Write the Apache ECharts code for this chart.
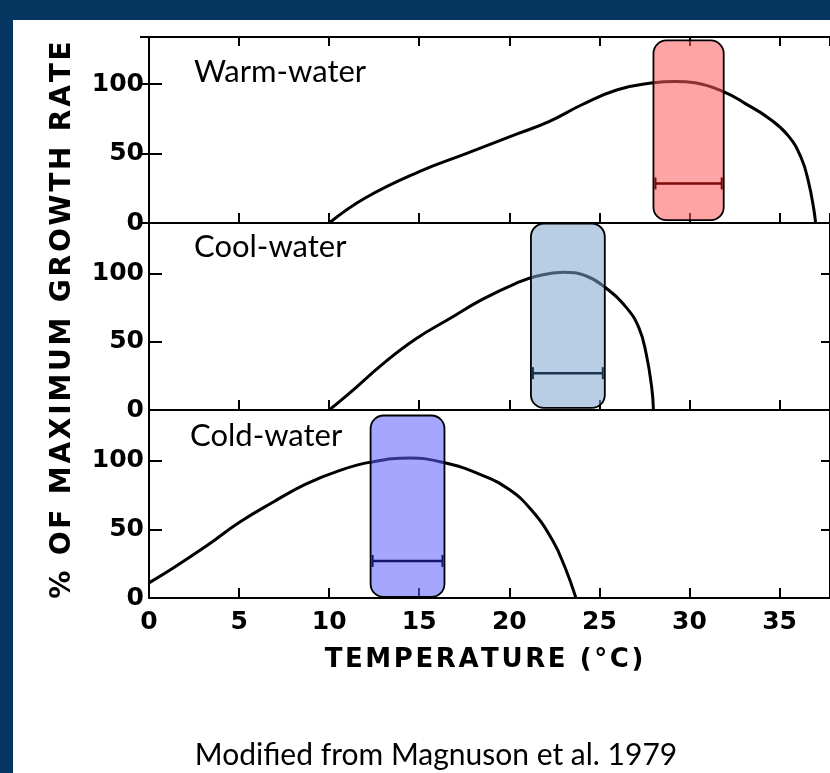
<!DOCTYPE html>
<html><head><meta charset="utf-8">
<script src="https://cdn.jsdelivr.net/npm/echarts@6/dist/echarts.min.js"></script>
<style>html,body{margin:0;padding:0;background:#fff}#c{width:830px;height:773px}</style>
</head><body><div id="c"></div>
<script>
// ---- data ----
const panelNames = ['Warm-water', 'Cool-water', 'Cold-water'];
const warmCurve = [[10,0],[12,18],[15,37],[17.6,50],[20.4,64],[22.2,73],[24,85],[26,96],[28,101],[29.2,102],[30.3,101],[32,94],[33.1,86],[34.4,75.5],[35.5,62.6],[36.2,47],[36.6,30],[36.9,10],[37,0]];
const coolCurve = [[10,0],[11.1,12],[13,34],[14.8,52],[16.7,67],[18.5,81],[20.4,93],[21.5,98],[23,101],[24.3,98],[25.3,90],[26.5,75],[27.2,60],[27.6,41],[27.9,17],[28,0]];
const coldCurve = [[0,11],[1.3,21.5],[3.2,38],[5,55],[6.9,70],[8.7,83],[10.6,93],[12.3,99],[14.5,102],[16.4,98.5],[18.3,90.5],[20,79],[21.3,63],[22.4,42],[23.1,22],[23.7,0]];
// preferred ranges: [tMin, tMax, bottom %, top %, bar level %]
const warmBox = [28, 31.9, 2, 131.5, 28.5];
const coolBox = [21.2, 25.3, 1.5, 136.5, 27];
const coldBox = [12.3, 16.4, 0.8, 133, 27];
const yTickLabels = ['0', '50', '100'];
const yStep = 50;
const xStep = 5;
const xMax = 37.8;
const yMax = [134, 137, 137];
const yTitle = '% OF MAXIMUM GROWTH RATE';
const xTitle = 'TEMPERATURE (°C)';
const caption = 'Modified from Magnuson et al. 1979';

// ---- chart ----
const chart = echarts.init(document.getElementById('c'), null, {renderer: 'canvas'});
const NUM_FONT = 'DejaVu Sans';
const gridTops = [37, 223, 410];
const gridHeights = [186, 187, 188];
const grids = gridTops.map((t, i) => ({left: 149, top: t, width: 682.6, height: gridHeights[i], containLabel: false}));

function spaced(s, sep) { return s.split('').join(sep); }

const numLabel = {color: '#000', fontFamily: NUM_FONT, fontWeight: 'bold', fontSize: 25};
const xAxes = [];
const yAxes = [];
for (let i = 0; i < 3; i++) {
  xAxes.push({
    type: 'value', gridIndex: i, min: 0, max: xMax, interval: xStep, position: 'bottom',
    axisLine: {show: true, onZero: false, lineStyle: {color: '#000', width: 2}},
    axisTick: {show: true, inside: true, length: 10, lineStyle: {color: '#000', width: 2}},
    axisLabel: Object.assign({show: i === 2, margin: 12, showMaxLabel: false}, numLabel),
    splitLine: {show: false}
  });
  yAxes.push({
    type: 'value', gridIndex: i, min: 0, max: yMax[i], interval: yStep, position: 'left',
    axisLine: {show: true, lineStyle: {color: '#000', width: 2}},
    axisTick: {show: true, inside: true, length: 13, lineStyle: {color: '#000', width: 2}},
    axisLabel: Object.assign({show: true, margin: 5, showMaxLabel: false,
      formatter: v => yTickLabels[Math.round(v / yStep)] || ''}, numLabel),
    splitLine: {show: false}
  });
  yAxes.push({
    type: 'value', gridIndex: i, min: 0, max: yMax[i], interval: yStep, position: 'right',
    axisLine: {show: true, lineStyle: {color: '#000', width: 2}},
    axisTick: {show: true, inside: true, length: 9, lineStyle: {color: '#000', width: 2}},
    axisLabel: {show: false}, splitLine: {show: false}
  });
}
// top frame of the first panel
xAxes.push({
  type: 'value', gridIndex: 0, min: 0, max: xMax, interval: xStep, position: 'top',
  axisLine: {show: true, onZero: false, lineStyle: {color: '#000', width: 2}},
  axisTick: {show: true, inside: true, length: 9, lineStyle: {color: '#000', width: 2}},
  axisLabel: {show: false}, splitLine: {show: false}
});

function boxRender(fill, barColor) {
  return function (params, api) {
    const x0 = api.value(0), x1 = api.value(1), yb = api.value(2), yt = api.value(3), yl = api.value(4);
    const a = api.coord([x0, yt]);
    const b = api.coord([x1, yb]);
    const l = api.coord([x0, yl]);
    const r = api.coord([x1, yl]);
    return {
      type: 'group',
      children: [
        {type: 'rect', shape: {x: a[0], y: a[1], width: b[0] - a[0], height: b[1] - a[1], r: 13},
          style: {fill: fill, stroke: '#000', lineWidth: 1.8}},
        {type: 'line', shape: {x1: l[0] + 2, y1: l[1], x2: r[0] - 2, y2: r[1]}, style: {stroke: barColor, lineWidth: 2.5}},
        {type: 'line', shape: {x1: l[0] + 2, y1: l[1] - 6, x2: l[0] + 2, y2: l[1] + 6}, style: {stroke: barColor, lineWidth: 2}},
        {type: 'line', shape: {x1: r[0] - 2, y1: r[1] - 6, x2: r[0] - 2, y2: r[1] + 6}, style: {stroke: barColor, lineWidth: 2}}
      ]
    };
  };
}

const curves = [warmCurve, coolCurve, coldCurve];
const boxes = [warmBox, coolBox, coldBox];
const fills = ['rgba(255,90,90,0.55)', 'rgba(126,166,206,0.55)', 'rgba(93,93,255,0.55)'];
const bars = ['#7a0a0a', '#1a3552', '#15156e'];
const series = [];
for (let i = 0; i < 3; i++) {
  series.push({
    type: 'line', xAxisIndex: i, yAxisIndex: i * 2, data: curves[i], smooth: 0.45, symbol: 'none',
    lineStyle: {color: '#000', width: 3}, z: 2, animation: false
  });
  series.push({
    type: 'custom', xAxisIndex: i, yAxisIndex: i * 2, data: [boxes[i]], renderItem: boxRender(fills[i], bars[i]),
    clip: false, z: 5, animation: false
  });
}

const navy = '#04365f';
const graphic = [
  {type: 'rect', left: 0, top: 0, shape: {width: 830, height: 20}, style: {fill: navy}, z: 100},
  {type: 'rect', left: 0, top: 0, shape: {width: 13, height: 773}, style: {fill: navy}, z: 100},
  {type: 'text', x: 63, y: 320, rotation: Math.PI / 2,
    style: {text: spaced(yTitle, '\u200A'), font: 'bold 28px "DejaVu Sans"', fill: '#000', align: 'center', verticalAlign: 'middle'}},
  {type: 'text', x: 484, y: 660,
    style: {text: spaced(xTitle, '\u200A'), font: 'bold 26px "DejaVu Sans"', fill: '#000', align: 'center', verticalAlign: 'middle'}},
  {type: 'text', x: 194, y: 72, style: {text: panelNames[0], font: '31px Lato', fill: '#000', align: 'left', verticalAlign: 'middle'}},
  {type: 'text', x: 194, y: 247, style: {text: panelNames[1], font: '31px Lato', fill: '#000', align: 'left', verticalAlign: 'middle'}},
  {type: 'text', x: 190, y: 436, style: {text: panelNames[2], font: '31px Lato', fill: '#000', align: 'left', verticalAlign: 'middle'}},
  {type: 'text', x: 436, y: 755, style: {text: caption, font: '30px Lato', fill: '#000', align: 'center', verticalAlign: 'middle'}}
];

chart.setOption({
  animation: false,
  backgroundColor: '#fff',
  grid: grids,
  xAxis: xAxes,
  yAxis: yAxes,
  series: series,
  graphic: graphic
});
</script></body></html>
